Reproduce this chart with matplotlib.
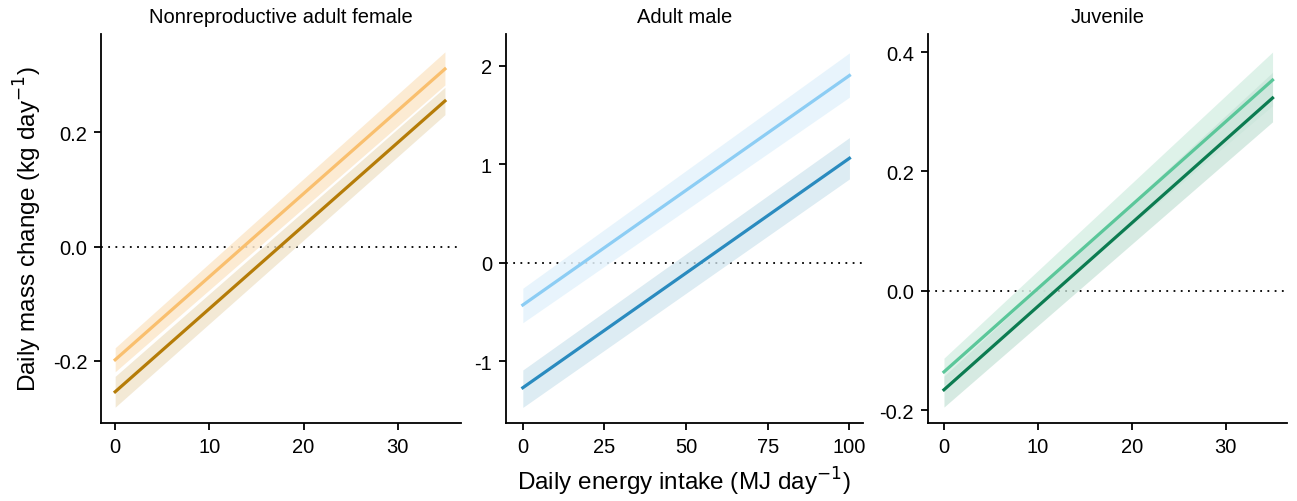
import numpy as np
import matplotlib.pyplot as plt

plt.rcParams['font.family'] = ['Liberation Sans', 'DejaVu Sans']

titles = ["Nonreproductive adult female", "Adult male", "Juvenile"]

# x range of each fitted line (MJ/day)
x_fem = [0, 35]
x_male = [0, 100]
x_juv = [0, 35]

# fitted values at the ends, and lower/upper CI at the ends
fem_light = [-0.198, 0.311]
fem_light_lo = [-0.219, 0.283]
fem_light_hi = [-0.177, 0.341]
fem_dark = [-0.254, 0.255]
fem_dark_lo = [-0.281, 0.231]
fem_dark_hi = [-0.227, 0.279]

male_light = [-0.43, 1.90]
male_light_lo = [-0.61, 1.68]
male_light_hi = [-0.26, 2.13]
male_dark = [-1.27, 1.06]
male_dark_lo = [-1.47, 0.85]
male_dark_hi = [-1.09, 1.27]

juv_light = [-0.136, 0.353]
juv_light_lo = [-0.158, 0.310]
juv_light_hi = [-0.113, 0.400]
juv_dark = [-0.166, 0.323]
juv_dark_lo = [-0.195, 0.283]
juv_dark_hi = [-0.143, 0.366]

xticks = [[0, 10, 20, 30], [0, 25, 50, 75, 100], [0, 10, 20, 30]]
yticks = [[-0.2, 0.0, 0.2], [-1, 0, 1, 2], [-0.2, 0.0, 0.2, 0.4]]
ytick_labels = [["-0.2", "0.0", "0.2"], ["-1", "0", "1", "2"], ["-0.2", "0.0", "0.2", "0.4"]]
xlims = [(-1.5, 36.7), (-5.2, 104), (-1.7, 36.5)]
ylims = [(-0.309, 0.372), (-1.63, 2.32), (-0.222, 0.43)]

colors = [("#F9BF6E", "#B57C08"), ("#8CCDF4", "#2A8BBF"), ("#5BC79A", "#0C7C51")]
band_colors = [("#FCE8CC", "#EFE2C8"), ("#E4F3FC", "#D2E6EF"), ("#D9F0E6", "#C9E4D9")]

panels = [
    (x_fem, fem_light, fem_light_lo, fem_light_hi, fem_dark, fem_dark_lo, fem_dark_hi),
    (x_male, male_light, male_light_lo, male_light_hi, male_dark, male_dark_lo, male_dark_hi),
    (x_juv, juv_light, juv_light_lo, juv_light_hi, juv_dark, juv_dark_lo, juv_dark_hi),
]

fig = plt.figure(figsize=(12.97, 5.02), dpi=100)
lefts = [0.0779, 0.390, 0.7155]
rights = [0.3554, 0.665, 0.992]
bottom, top = 0.155, 0.930

for i in range(3):
    ax = fig.add_axes([lefts[i], bottom, rights[i] - lefts[i], top - bottom])
    x, l, llo, lhi, d, dlo, dhi = panels[i]
    cl, cd = colors[i]
    bl, bd = band_colors[i]
    ax.axhline(0, color="black", linestyle=(0, (1, 3)), linewidth=1.3, zorder=1)
    ax.fill_between(x, llo, lhi, color=bl, alpha=0.85, linewidth=0, zorder=2)
    ax.fill_between(x, dlo, dhi, color=bd, alpha=0.75, linewidth=0, zorder=2)
    ax.plot(x, l, color=cl, linewidth=2.3, zorder=3)
    ax.plot(x, d, color=cd, linewidth=2.3, zorder=3)
    ax.set_xlim(xlims[i])
    ax.set_ylim(ylims[i])
    ax.set_xticks(xticks[i])
    ax.set_yticks(yticks[i])
    ax.set_yticklabels(ytick_labels[i])
    ax.spines['top'].set_visible(False)
    ax.spines['right'].set_visible(False)
    ax.spines['left'].set_linewidth(1.3)
    ax.spines['bottom'].set_linewidth(1.3)
    ax.tick_params(axis='both', labelsize=14.5, width=1.3, length=5, color='black', pad=5)
    ax.set_title(titles[i], fontsize=14.5, pad=9)
    if i == 0:
        ax.set_ylabel("Daily mass change (kg day$^{-1}$)", fontsize=17.5, labelpad=6)
    if i == 1:
        ax.set_xlabel("Daily energy intake (MJ day$^{-1}$)", fontsize=17.5, labelpad=6)

fig.savefig("out.png", dpi=100)
